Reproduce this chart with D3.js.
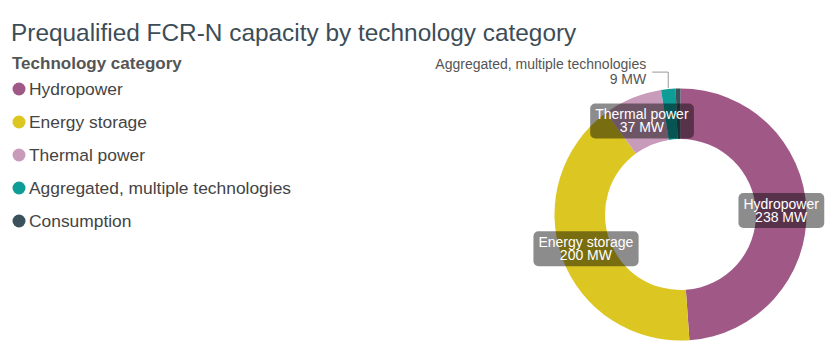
<!DOCTYPE html>
<html>
<head>
<meta charset="utf-8">
<script src="https://cdn.jsdelivr.net/npm/d3@7"></script>
<style>
  body { margin: 0; background: #fff; font-family: "Liberation Sans", Arial, sans-serif; }
  svg text { font-family: "Liberation Sans", Arial, sans-serif; }
</style>
</head>
<body>
<svg id="chart" width="833" height="354"></svg>
<script>
// data
const categories = ['Hydropower', 'Energy storage', 'Thermal power', 'Aggregated, multiple technologies', 'Consumption']
const values     = [238, 200, 37, 9, 3]
const colours    = ['#a05987', '#dcc622', '#c99bbb', '#0e9c97', '#3b525d']
const outside    = ['Aggregated, multiple technologies'] // small slices labelled outside
const hidden     = ['Consumption']

let svg = d3.select('#chart'),
    cx  = 680.5,
    cy  = 214.5,
    R   = 126,
    r   = 75.5,
    ς   = d3.scaleOrdinal().domain(categories).range(colours),
    data= categories.map((c, i) => ({ name: c, value: values[i] }))

// title
svg.append('text')
  .attr('x', 11)
  .attr('y', 41)
  .attr('font-size', 24.4)
  .attr('fill', '#3d4d57')
  .text('Prequalified FCR-N capacity by technology category')

// legend
let lg = svg.append('g').attr('transform', 'translate(12,0)')
lg.append('text')
  .attr('x', 0)
  .attr('y', 69)
  .attr('font-size', 17)
  .attr('font-weight', 'bold')
  .attr('fill', '#555')
  .text('Technology category')

let li = lg.selectAll('g.item')
  .data(categories)
  .join('g')
    .attr('class', 'item')
    .attr('transform', (d, i) => 'translate(0,' + (89 + i * 33) + ')')
li.append('circle')
  .attr('cx', 7)
  .attr('cy', 0)
  .attr('r', 6.5)
  .attr('fill', d => ς(d))
li.append('text')
  .attr('x', 17)
  .attr('y', 6)
  .attr('font-size', 17.4)
  .attr('fill', '#444')
  .text(d => d)

// donut
let pie = d3.pie().value(d => d.value).sort(null),
    arc = d3.arc().innerRadius(r).outerRadius(R),
    arcs= pie(data),
    g   = svg.append('g').attr('transform', 'translate(' + cx + ',' + cy + ')')

g.selectAll('path')
  .data(arcs)
  .join('path')
    .attr('d', arc)
    .attr('fill', d => ς(d.data.name))

// labels inside the ring, on a dark translucent box
let inner = arcs.filter(a => !outside.includes(a.data.name) && !hidden.includes(a.data.name))
let lb = g.selectAll('g.lbl')
  .data(inner)
  .join('g')
    .attr('class', 'lbl')
    .attr('transform', d => 'translate(' + arc.centroid(d) + ')')

lb.append('rect')
  .attr('rx', 5)
  .attr('fill', 'rgba(0,0,0,0.45)')

let tx = lb.append('text')
  .attr('text-anchor', 'middle')
  .attr('font-size', 14)
  .attr('fill', '#fff')
tx.append('tspan').attr('x', 0).attr('y', -2).text(d => d.data.name)
tx.append('tspan').attr('x', 0).attr('y', 11).text(d => d.data.value + ' MW')

tx.each(function(d) {
  let b = this.getBBox(),
      p = 5
  d3.select(this.parentNode).select('rect')
    .attr('x', b.x - p)
    .attr('y', b.y - 3)
    .attr('width', b.width + 2 * p)
    .attr('height', b.height + 6)
})

// labels outside the ring, with a connector
arcs.filter(a => outside.includes(a.data.name)).forEach(a => {
  let θ  = (a.startAngle + a.endAngle) / 2,
      p  = [Math.sin(θ) * (R + 1), -Math.cos(θ) * (R + 1)],
      e  = [p[0], p[1] - 16],
      f  = [p[0] - 16, p[1] - 16]
  g.append('path')
    .attr('d', d3.line()([p, e, f]))
    .attr('fill', 'none')
    .attr('stroke', '#999')
    .attr('stroke-width', 1)
  let t = g.append('text')
    .attr('text-anchor', 'end')
    .attr('font-size', 14)
    .attr('fill', '#555')
  t.append('tspan').attr('x', f[0] - 6).attr('y', f[1] - 3).text(a.data.name)
  t.append('tspan').attr('x', f[0] - 6).attr('y', f[1] + 12).text(a.data.value + ' MW')
})
</script>
</body>
</html>
